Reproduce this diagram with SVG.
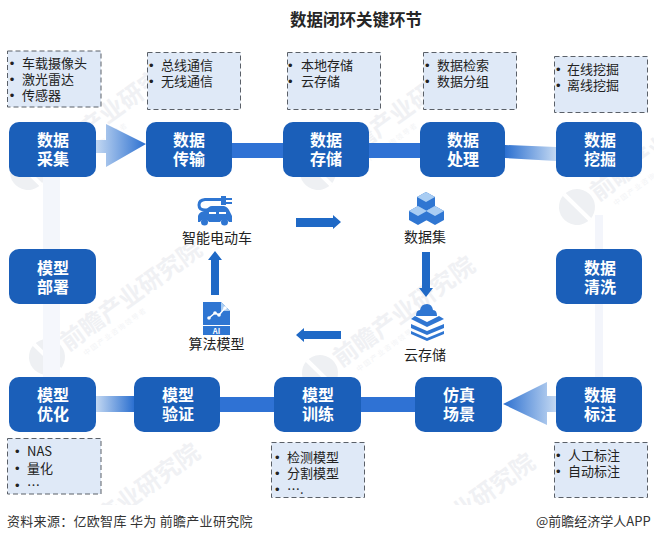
<svg xmlns="http://www.w3.org/2000/svg" width="654" height="542" viewBox="0 0 654 542">
<style>
text{font-family:"Noto Sans CJK SC","Liberation Sans",sans-serif}
.title{font-size:16.5px;font-weight:700;fill:#262626}
.box{fill:#1b5fb9}
.nt{font-size:16px;font-weight:700;fill:#fff;text-anchor:middle}
.note{fill:#dfe9f7;stroke:#5a6068;stroke-width:1;stroke-dasharray:5 3}
.li{font-size:13px;fill:#222}
.dot{font-size:13px;fill:#222;font-family:"Liberation Sans",sans-serif}
.lbl{font-size:14px;fill:#222;text-anchor:middle}
.foot{font-size:13px;fill:#333}
.wm{font-size:24px;font-weight:700;fill:#f0f1f4}
.wms{font-size:7px;fill:#f3f4f6;letter-spacing:1.5px}
.solid{fill:#2f72d4}
.mid{fill:#1f69c6}
.ico{fill:#2f76d2}
</style>
<defs>
<linearGradient id="fadeOut" x1="0" x2="1" y1="0" y2="0"><stop offset="0" stop-color="#2c70d0"/><stop offset="1" stop-color="#c3d8f2"/></linearGradient>
<linearGradient id="fadeIn" x1="0" x2="1" y1="0" y2="0"><stop offset="0" stop-color="#c3d8f2"/><stop offset="1" stop-color="#2c70d0"/></linearGradient>
<g id="mark">
<circle cx="0" cy="0" r="18" fill="#eef0f3"/>
<path d="M-3 -18L3 18" stroke="#fff" stroke-width="4" fill="none"/>
<text class="wm" x="20" y="8">前瞻产业研究院</text>
<text class="wms" x="32" y="22">中国产业咨询领导者</text>
</g>
<clipPath id="wmArea"><rect x="0" y="0" width="654" height="505"/></clipPath>
</defs>
<rect width="654" height="542" fill="#fff"/>

<!-- background marks -->
<g id="watermarks" clip-path="url(#wmArea)">
<use href="#mark" transform="translate(47 357) rotate(-36)"/>
<use href="#mark" transform="translate(577 207) rotate(-36)"/>
<use href="#mark" transform="translate(28 172) rotate(-36)"/>
<use href="#mark" transform="translate(318 172) rotate(-36)"/>
<use href="#mark" transform="translate(320 373) rotate(-36)"/>
<use href="#mark" transform="translate(45 560) rotate(-36)"/>
<use href="#mark" transform="translate(380 570) rotate(-36)"/>
</g>

<text class="title" x="290" y="26">数据闭环关键环节</text>

<!-- connectors -->
<g id="connectors">
<rect x="43" y="177" width="17" height="72" fill="#f3f6fb"/>
<rect x="43" y="304" width="17" height="73" fill="#f5f7fc"/>
<rect x="595" y="215" width="8" height="34" fill="#f3f5fb"/>
<rect x="595" y="304" width="8" height="73" fill="#f3f5fb"/>
<path d="M96 140H106V124L146 144L106 167V153H96Z" fill="url(#fadeIn)"/>
<rect class="solid" x="232" y="143" width="51" height="15"/>
<rect class="solid" x="369" y="143" width="51" height="15"/>
<path d="M505 145L556 147V161L505 158Z" fill="url(#fadeOut)"/>
<rect x="96" y="396" width="38" height="16" fill="url(#fadeIn)"/>
<rect class="solid" x="220" y="397" width="54" height="15"/>
<rect class="solid" x="361" y="397" width="54" height="15"/>
<path d="M503 404L547 382V396H556V412H547V425Z" fill="url(#fadeOut)"/>
<path class="mid" d="M296 218H333V215L341 222L333 229V227H296Z"/>
<path class="mid" d="M422 252H430V288H433L426 297L419 288H422Z"/>
<path class="mid" d="M341 331H304V328L296 335L304 342V339H341Z"/>
<path class="mid" d="M211 295V260H208L215 251L222 260H219V295Z"/>
</g>

<!-- process steps -->
<g id="step-collect"><rect class="box" x="9" y="122" width="87" height="55" rx="10"/><text class="nt" x="53" y="146">数据</text><text class="nt" x="53" y="165">采集</text></g>
<g id="step-transfer"><rect class="box" x="146" y="122" width="86" height="55" rx="10"/><text class="nt" x="189" y="146">数据</text><text class="nt" x="189" y="165">传输</text></g>
<g id="step-store"><rect class="box" x="283" y="122" width="86" height="55" rx="10"/><text class="nt" x="326" y="146">数据</text><text class="nt" x="326" y="165">存储</text></g>
<g id="step-process"><rect class="box" x="420" y="122" width="85" height="55" rx="10"/><text class="nt" x="463" y="146">数据</text><text class="nt" x="463" y="165">处理</text></g>
<g id="step-mine"><rect class="box" x="556" y="122" width="86" height="55" rx="10"/><text class="nt" x="600" y="146">数据</text><text class="nt" x="600" y="165">挖掘</text></g>
<g id="step-clean"><rect class="box" x="556" y="249" width="86" height="55" rx="10"/><text class="nt" x="600" y="274">数据</text><text class="nt" x="600" y="293">清洗</text></g>
<g id="step-label"><rect class="box" x="556" y="377" width="86" height="55" rx="10"/><text class="nt" x="600" y="401">数据</text><text class="nt" x="600" y="420">标注</text></g>
<g id="step-sim"><rect class="box" x="415" y="377" width="87" height="55" rx="10"/><text class="nt" x="459" y="401">仿真</text><text class="nt" x="459" y="420">场景</text></g>
<g id="step-train"><rect class="box" x="274" y="377" width="87" height="55" rx="10"/><text class="nt" x="318" y="401">模型</text><text class="nt" x="318" y="420">训练</text></g>
<g id="step-verify"><rect class="box" x="134" y="377" width="86" height="55" rx="10"/><text class="nt" x="178" y="401">模型</text><text class="nt" x="178" y="420">验证</text></g>
<g id="step-optimize"><rect class="box" x="9" y="377" width="87" height="55" rx="10"/><text class="nt" x="53" y="401">模型</text><text class="nt" x="53" y="420">优化</text></g>
<g id="step-deploy"><rect class="box" x="9" y="249" width="87" height="55" rx="10"/><text class="nt" x="53" y="274">模型</text><text class="nt" x="53" y="293">部署</text></g>

<!-- detail notes -->
<g id="note-collect"><rect class="note" x="7.5" y="51" width="93.5" height="56"/><text class="dot" x="9.700" y="68">•</text><text class="dot" x="9.700" y="84">•</text><text class="dot" x="9.700" y="100">•</text><text class="li" x="22" y="68">车载摄像头</text><text class="li" x="22" y="84">激光雷达</text><text class="li" x="22" y="100">传感器</text></g>
<g id="note-transfer"><rect class="note" x="147.5" y="52.500" width="93" height="57"/><text class="dot" x="149" y="70">•</text><text class="dot" x="149" y="86">•</text><text class="li" x="161" y="70">总线通信</text><text class="li" x="161" y="86">无线通信</text></g>
<g id="note-store"><rect class="note" x="287.5" y="52.500" width="93" height="57"/><text class="dot" x="288" y="70">•</text><text class="dot" x="288" y="86">•</text><text class="li" x="301" y="70">本地存储</text><text class="li" x="301" y="86">云存储</text></g>
<g id="note-process"><rect class="note" x="423.5" y="52.500" width="93" height="57"/><text class="dot" x="425" y="70">•</text><text class="dot" x="425" y="86">•</text><text class="li" x="437" y="70">数据检索</text><text class="li" x="437" y="86">数据分组</text></g>
<g id="note-mine"><rect class="note" x="554.500" y="56.500" width="93" height="56"/><text class="dot" x="556" y="74">•</text><text class="dot" x="556" y="90">•</text><text class="li" x="567" y="74">在线挖掘</text><text class="li" x="567" y="90">离线挖掘</text></g>
<g id="note-optimize"><rect class="note" x="7.500" y="438.500" width="93.500" height="55.500"/><text class="dot" x="15" y="456">•</text><text class="dot" x="15" y="473">•</text><text class="dot" x="15" y="490">•</text><text class="li" x="27" y="456">NAS</text><text class="li" x="27" y="473">量化</text><text class="li" x="27" y="490">…</text></g>
<g id="note-train"><rect class="note" x="271.500" y="442.500" width="93" height="55"/><text class="dot" x="275" y="462">•</text><text class="dot" x="275" y="478">•</text><text class="dot" x="275" y="494">•</text><text class="li" x="287" y="462">检测模型</text><text class="li" x="287" y="478">分割模型</text><text class="li" x="287" y="494">….</text></g>
<g id="note-label"><rect class="note" x="554.500" y="442.500" width="93" height="55"/><text class="dot" x="556" y="460">•</text><text class="dot" x="556" y="476">•</text><text class="li" x="568" y="460">人工标注</text><text class="li" x="568" y="476">自动标注</text></g>

<!-- centre loop -->
<g id="ev-car">
<path d="M223 199.500H205Q199 200 199 205Q199 210 205 210H209" fill="none" stroke="#2f76d2" stroke-width="3"/>
<path class="ico" d="M221 196H226V198H232V200H226V202H232V204H226V205H221Z"/>
<path class="ico" d="M198 222V216Q199 212 204 211L209 207Q210 206 212 206H224Q228 207 230 212L232 216V222H229A5 5 0 0 0 220 222H209A5 5 0 0 0 200 222Z"/>
<circle class="ico" cx="204.500" cy="222" r="3.500"/>
<circle class="ico" cx="224.500" cy="222" r="3.500"/>
<path d="M209 213H216M219 213H226" stroke="#fff" stroke-width="1.800"/>
<text class="lbl" x="217" y="243">智能电动车</text>
</g>
<g id="dataset">
<path class="ico" d="M426 192L435 197V206L426 211L417 206V197Z"/>
<path d="M426 192L435 197L426 202L417 197Z" fill="#a9cdf3"/>
<path class="ico" d="M418 206L427 211V220L418 225L409 220V211Z"/>
<path d="M418 206L427 211L418 216L409 211Z" fill="#a9cdf3"/>
<path class="ico" d="M435 206L444 211V220L435 225L426 220V211Z"/>
<path d="M435 206L444 211L435 216L426 211Z" fill="#a9cdf3"/>
<text class="lbl" x="425" y="242">数据集</text>
</g>
<g id="cloud-store">
<path class="ico" d="M416 316Q416 310 420 310Q421 304 427 304Q432 304 433 310Q437 310 437 316Z"/>
<path class="ico" d="M415 316L427 322L439 316L444 319L427 327L411 319Z"/>
<path class="ico" d="M411 324L427 331L444 324V328L427 335L411 328Z"/>
<path class="ico" d="M411 331L427 338L444 331V334L427 341L411 334Z"/>
<text class="lbl" x="425" y="360">云存储</text>
</g>
<g id="algo-model">
<path class="ico" d="M203 302H221L230 311V325H203Z"/>
<path d="M221 302V311H230Z" fill="#a9cdf3"/>
<rect class="ico" x="203" y="326" width="27" height="9"/>
<path d="M209 318L215 313L219 315L225 308" fill="none" stroke="#fff" stroke-width="1.500"/>
<circle cx="209" cy="318" r="1.800" fill="#fff"/><circle cx="215" cy="313" r="1.800" fill="#fff"/><circle cx="219" cy="315" r="1.800" fill="#fff"/><circle cx="225" cy="308" r="1.800" fill="#fff"/>
<text x="216.500" y="333.500" font-size="7.500" font-weight="700" fill="#fff" text-anchor="middle">AI</text>
<text class="lbl" x="216.500" y="349">算法模型</text>
</g>

<!-- source line -->
<text class="foot" x="7" y="526" letter-spacing=".3">资料来源：亿欧智库 华为 前瞻产业研究院</text>
<text class="foot" x="536" y="526">@前瞻经济学人APP</text>
</svg>
